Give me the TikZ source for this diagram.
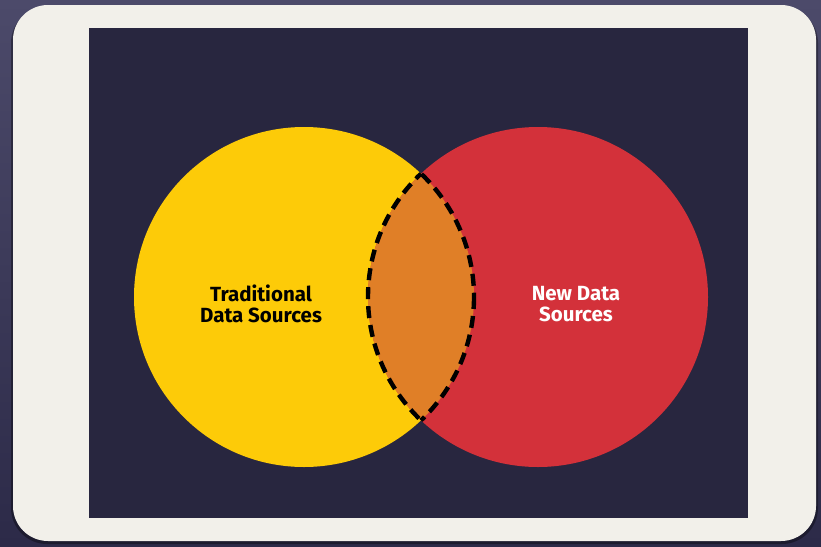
\documentclass[tikz,border=0pt]{standalone}
\usepackage{fontspec}
\setsansfont{Fira Sans}
\definecolor{backtop}{HTML}{4C4A6A}
\definecolor{backbot}{HTML}{2C2A48}
\definecolor{framewhite}{HTML}{F2F0EA}
\definecolor{screenblue}{HTML}{28263F}
\definecolor{venyellow}{HTML}{FDCB08}
\definecolor{venred}{HTML}{D3313A}
\definecolor{venorange}{HTML}{E07F27}
\tikzset{
  vlabel/.style={font=\sffamily\bfseries\fontsize{20.5}{21}\selectfont, align=center},
  lensline/.style={draw=black, line width=4.4pt, dash pattern=on 12pt off 7pt}
}

\begin{document}
\begin{tikzpicture}[x=1pt,y=-1pt]
\useasboundingbox (0,0) rectangle (821,546);
% backdrop and tablet
\shade[top color=backtop, bottom color=backbot] (0,0) rectangle (821,546);
\fill[black, opacity=0.35, rounded corners=36] (11,7) rectangle (818,544);
\fill[framewhite, rounded corners=35] (13,5) rectangle (816,541);
\fill[screenblue] (89,28) rectangle (748,518);
% the two sets
\fill[venyellow] (304,297) circle[radius=170];
\fill[venred] (538,297) circle[radius=170];
\begin{scope}
  \clip (304,297) circle[radius=170];
  \fill[venorange] (538,297) circle[radius=170];
\end{scope}
% dashed outline of the overlap
\begin{scope}
  \clip (538,297) circle[radius=170];
  \path[lensline] (304,297) circle[radius=170];
\end{scope}
\begin{scope}
  \clip (304,297) circle[radius=170];
  \path[lensline] (538,297) circle[radius=170];
\end{scope}
\node[vlabel, text=black] (trad) at (261,304) {Traditional\\Data Sources};
\node[vlabel, text=white] (new) at (576,304) {New Data\\Sources};
\end{tikzpicture}
\end{document}
